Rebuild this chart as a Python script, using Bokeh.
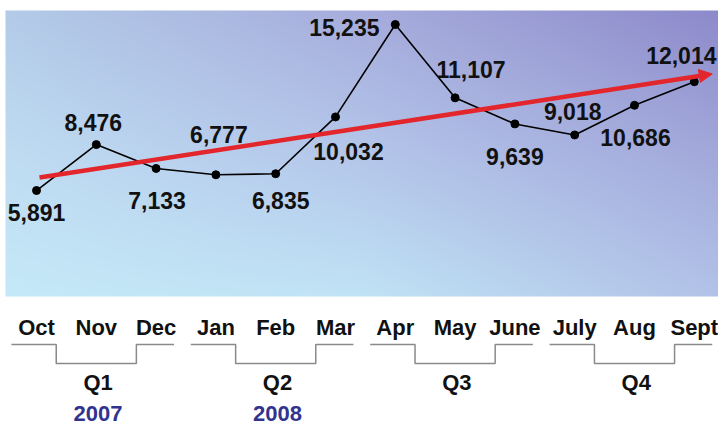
import numpy as np
from bokeh.plotting import figure
from bokeh.models import Arrow, NormalHead, ColumnDataSource
from bokeh.core.properties import value
from bokeh.embed import file_html
from bokeh.resources import INLINE

# ---------------- data ----------------
months = ["Oct", "Nov", "Dec", "Jan", "Feb", "Mar", "Apr", "May", "June", "July", "Aug", "Sept"]
counts = [5891, 8476, 7133, 6777, 6835, 10032, 15235, 11107, 9639, 9018, 10686, 12014]
quarters = ["Q1", "Q2", "Q3", "Q4"]
quarter_years = ["2007", "2008", "", ""]
trend_x = [0.05, 11.3]           # month index
trend_y = [6620, 12450]          # trend value at start / end

# ---------------- layout / style ----------------
W, H = 718, 426
def xd(px):   # pixel x -> month index
    return (px - 36) / 59.8
def yd(py):   # pixel y -> value
    return (294.7 - py) / 0.01777

FONT = value("Liberation Sans")
label_dx = [0, -3, 1, 3, 5, 13, -51, 16, 0, -2, 1, -13]
label_dy = [22, -22, 32, -40, 27, 35, 3, -28, 33, -23, 32, -26]

p = figure(width=W, height=H, output_backend="svg", toolbar_location=None,
           x_range=(xd(0), xd(W)), y_range=(yd(H), yd(0)),
           min_border=0, border_fill_color="white", background_fill_color="white")
p.axis.visible = False
p.grid.visible = False
p.outline_line_color = None

# gradient panel
grid_cols = [  # rows: bottom, middle, top ; cols: left, mid, right
    ["#c5e9f8", "#c0e3f5", "#b2c2e8"],
    ["#bfdcf2", "#b4c6ea", "#a2a8da"],
    ["#b3cbe8", "#a6acdc", "#8d8acb"],
]
def hex2rgb(h):
    return np.array([int(h[1:3], 16), int(h[3:5], 16), int(h[5:7], 16)], dtype=float)
G = np.array([[hex2rgb(c) for c in row] for row in grid_cols])  # 3x3x3
nx, ny = 360, 144
u = np.linspace(0, 1, nx)
v = np.linspace(0, 1, ny)
U, V = np.meshgrid(u, v)
def interp2(U, V, G):
    gx = U * 2
    gy = V * 2
    ix = np.clip(np.floor(gx).astype(int), 0, 1)
    iy = np.clip(np.floor(gy).astype(int), 0, 1)
    fx = (gx - ix)[..., None]
    fy = (gy - iy)[..., None]
    c00 = G[iy, ix]
    c01 = G[iy, ix + 1]
    c10 = G[iy + 1, ix]
    c11 = G[iy + 1, ix + 1]
    return (c00 * (1 - fx) * (1 - fy) + c01 * fx * (1 - fy) +
            c10 * (1 - fx) * fy + c11 * fx * fy)
C = interp2(U, V, G)
img = np.empty((ny, nx), dtype=np.uint32)
view = img.view(dtype=np.uint8).reshape((ny, nx, 4))
view[..., 0] = C[..., 0].astype(np.uint8)
view[..., 1] = C[..., 1].astype(np.uint8)
view[..., 2] = C[..., 2].astype(np.uint8)
view[..., 3] = 255
p.image_rgba(image=[img], x=xd(5), y=yd(296), dw=xd(722) - xd(5), dh=yd(10) - yd(296))

# series
idx = list(range(len(months)))
src = ColumnDataSource(dict(x=idx, y=counts, lab=[f"{c:,}" for c in counts],
                            dx=label_dx, dy=label_dy))
p.line("x", "y", source=src, line_color="black", line_width=1.6)
p.scatter("x", "y", source=src, size=8, fill_color="black", line_color="black")
p.text("x", "y", text="lab", source=src, x_offset="dx", y_offset="dy",
       text_font=FONT, text_font_style="bold", text_font_size="23px",
       text_align="center", text_baseline="middle", text_color="#111111")

# trend arrow
red = "#e3262b"
p.add_layout(Arrow(end=NormalHead(size=13, fill_color=red, line_color=red),
                   x_start=trend_x[0], y_start=trend_y[0],
                   x_end=trend_x[1], y_end=trend_y[1],
                   line_color=red, line_width=4.5))

# month labels
p.text(x=idx, y=[yd(327)] * len(idx), text=months, text_font=FONT,
       text_font_style="bold", text_font_size="22px", text_align="center",
       text_baseline="middle", text_color="#111111")

# quarter brackets
top, bot = yd(344), yd(363)
bx, by = [], []
for q in range(len(quarters)):
    s = 3 * q
    bx.append([s - 0.42, s + 0.33, s + 0.33, s + 1.67, s + 1.67, s + 2.3])
    by.append([top, top, bot, bot, top, top])
p.multi_line(bx, by, line_color="#8a8a8a", line_width=1.5)

qx = [3 * q + 1.03 for q in range(len(quarters))]
p.text(x=qx, y=[yd(382)] * len(quarters), text=quarters, text_font=FONT,
       text_font_style="bold", text_font_size="22px", text_align="center",
       text_baseline="middle", text_color="#111111")
p.text(x=qx, y=[yd(413)] * len(quarters), text=quarter_years, text_font=FONT,
       text_font_style="bold", text_font_size="22px", text_align="center",
       text_baseline="middle", text_color="#33338f")

open("out.html", "w").write(file_html(p, INLINE))
